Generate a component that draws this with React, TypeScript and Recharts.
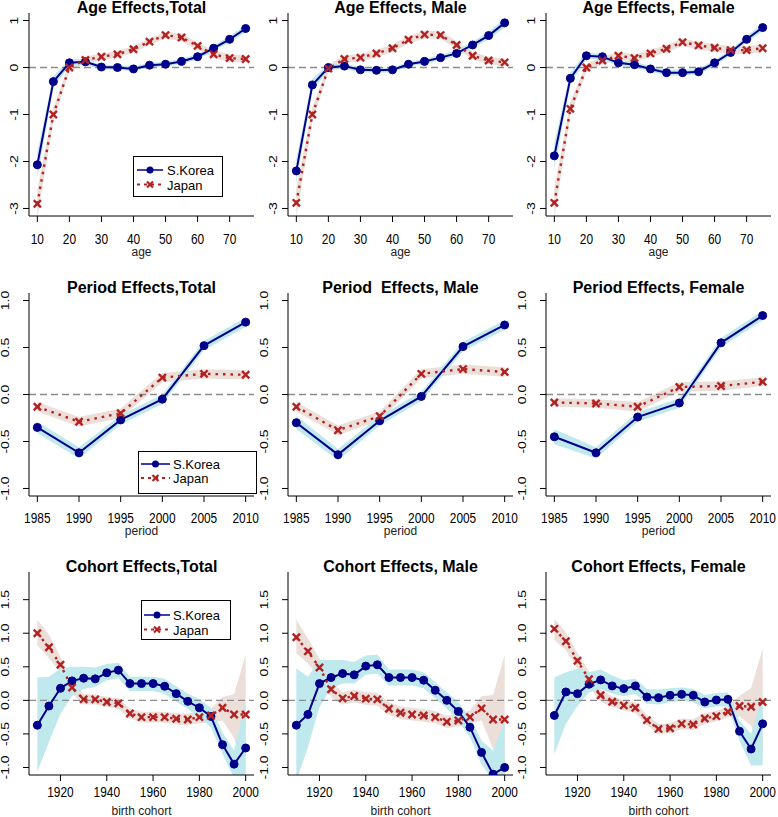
import React from 'react';
import { ComposedChart, Line, Area, XAxis, YAxis, ReferenceLine } from 'recharts';

const FONT = '"Liberation Sans", Arial, Helvetica, sans-serif';
const KOREA = '#00008B';
const JAPAN = '#B22222';
const KOREA_BAND = '#bfe9ed';
const JAPAN_BAND = '#ecdfd9';

// ---------- x categories ----------
const ageX = [10, 15, 20, 25, 30, 35, 40, 45, 50, 55, 60, 65, 70, 75];
const periodX = [1985, 1990, 1995, 2000, 2005, 2010];
const cohortX = [1910, 1915, 1920, 1925, 1930, 1935, 1940, 1945, 1950, 1955, 1960, 1965, 1970, 1975, 1980, 1985, 1990, 1995, 2000];

// ---------- tick labels ----------
const ageXTicks = [10, 20, 30, 40, 50, 60, 70];
const ageYTicks = [-3, -2, -1, 0, 1];
const periodXTicks = [1985, 1990, 1995, 2000, 2005, 2010];
const periodYTicks = [-1, -0.5, 0, 0.5, 1];
const cohortXTicks = [1920, 1940, 1960, 1980, 2000];
const cohortYTicks = [-1, -0.5, 0, 0.5, 1, 1.5];

// ---------- Age effects ----------
const ageTotalKorea = [-2.07, -0.3, 0.1, 0.12, 0.01, 0, -0.03, 0.05, 0.07, 0.13, 0.23, 0.41, 0.6, 0.83];
const ageTotalKoreaLo = [-2.35, -0.42, 0.03, 0.06, -0.04, -0.05, -0.08, 0, 0.02, 0.08, 0.17, 0.35, 0.53, 0.75];
const ageTotalKoreaHi = [-1.8, -0.18, 0.17, 0.18, 0.06, 0.05, 0.02, 0.1, 0.12, 0.18, 0.29, 0.47, 0.67, 0.91];
const ageTotalJapan = [-2.9, -1.0, 0, 0.16, 0.23, 0.28, 0.39, 0.55, 0.69, 0.64, 0.46, 0.28, 0.2, 0.18];
const ageTotalJapanLo = [-3.2, -1.15, -0.08, 0.09, 0.16, 0.21, 0.32, 0.48, 0.62, 0.56, 0.38, 0.2, 0.12, 0.1];
const ageTotalJapanHi = [-2.6, -0.85, 0.08, 0.23, 0.3, 0.35, 0.46, 0.62, 0.76, 0.72, 0.54, 0.36, 0.28, 0.26];

const ageMaleKorea = [-2.2, -0.37, 0, 0.03, -0.05, -0.06, -0.05, 0.07, 0.13, 0.21, 0.3, 0.48, 0.68, 0.95];
const ageMaleKoreaLo = [-2.45, -0.5, -0.06, -0.03, -0.1, -0.11, -0.1, 0.02, 0.08, 0.15, 0.24, 0.41, 0.6, 0.85];
const ageMaleKoreaHi = [-1.95, -0.24, 0.06, 0.09, 0.0, -0.01, 0.0, 0.12, 0.18, 0.27, 0.36, 0.55, 0.76, 1.05];
const ageMaleJapan = [-2.88, -1.0, -0.02, 0.18, 0.21, 0.3, 0.41, 0.59, 0.7, 0.69, 0.48, 0.25, 0.15, 0.11];
const ageMaleJapanLo = [-3.2, -1.15, -0.1, 0.1, 0.13, 0.22, 0.33, 0.51, 0.62, 0.61, 0.4, 0.17, 0.07, 0.03];
const ageMaleJapanHi = [-2.56, -0.85, 0.06, 0.26, 0.29, 0.38, 0.49, 0.67, 0.78, 0.77, 0.56, 0.33, 0.23, 0.19];

const ageFemaleKorea = [-1.88, -0.23, 0.25, 0.23, 0.1, 0.06, -0.03, -0.11, -0.11, -0.09, 0.1, 0.32, 0.6, 0.85];
const ageFemaleKoreaLo = [-2.15, -0.36, 0.18, 0.17, 0.04, 0.0, -0.09, -0.17, -0.17, -0.15, 0.04, 0.26, 0.53, 0.77];
const ageFemaleKoreaHi = [-1.6, -0.1, 0.32, 0.29, 0.16, 0.12, 0.03, -0.05, -0.05, -0.03, 0.16, 0.38, 0.67, 0.93];
const ageFemaleJapan = [-2.88, -0.88, 0, 0.15, 0.25, 0.2, 0.3, 0.4, 0.54, 0.47, 0.42, 0.37, 0.37, 0.41];
const ageFemaleJapanLo = [-3.2, -1.03, -0.08, 0.07, 0.17, 0.12, 0.22, 0.32, 0.46, 0.39, 0.34, 0.29, 0.29, 0.33];
const ageFemaleJapanHi = [-2.56, -0.73, 0.08, 0.23, 0.33, 0.28, 0.38, 0.48, 0.62, 0.55, 0.5, 0.45, 0.45, 0.49];

// ---------- Period effects ----------
const periodTotalKorea = [-0.35, -0.62, -0.27, -0.05, 0.52, 0.77];
const periodTotalKoreaLo = [-0.41, -0.68, -0.32, -0.1, 0.47, 0.72];
const periodTotalKoreaHi = [-0.29, -0.56, -0.22, 0.0, 0.57, 0.82];
const periodTotalJapan = [-0.13, -0.29, -0.2, 0.18, 0.22, 0.21];
const periodTotalJapanLo = [-0.18, -0.34, -0.25, 0.13, 0.17, 0.16];
const periodTotalJapanHi = [-0.08, -0.24, -0.15, 0.23, 0.27, 0.26];

const periodMaleKorea = [-0.3, -0.64, -0.28, -0.02, 0.51, 0.74];
const periodMaleKoreaLo = [-0.37, -0.7, -0.33, -0.07, 0.46, 0.69];
const periodMaleKoreaHi = [-0.23, -0.58, -0.23, 0.03, 0.56, 0.79];
const periodMaleJapan = [-0.13, -0.38, -0.23, 0.22, 0.27, 0.24];
const periodMaleJapanLo = [-0.18, -0.43, -0.28, 0.17, 0.22, 0.19];
const periodMaleJapanHi = [-0.08, -0.33, -0.18, 0.27, 0.32, 0.29];

const periodFemaleKorea = [-0.45, -0.62, -0.24, -0.09, 0.55, 0.84];
const periodFemaleKoreaLo = [-0.53, -0.68, -0.29, -0.14, 0.5, 0.79];
const periodFemaleKoreaHi = [-0.37, -0.56, -0.19, -0.04, 0.6, 0.89];
const periodFemaleJapan = [-0.085, -0.095, -0.13, 0.08, 0.09, 0.135];
const periodFemaleJapanLo = [-0.13, -0.14, -0.18, 0.03, 0.04, 0.09];
const periodFemaleJapanHi = [-0.04, -0.05, -0.08, 0.13, 0.14, 0.18];

// ---------- Cohort effects ----------
const cohortTotalKorea = [-0.37, -0.085, 0.18, 0.29, 0.33, 0.32, 0.41, 0.45, 0.25, 0.25, 0.25, 0.21, 0.1, -0.015, -0.11, -0.24, -0.66, -0.95, -0.71];
const cohortTotalKoreaLo = [-1.06, -0.62, -0.2, 0.07, 0.17, 0.2, 0.3, 0.33, 0.14, 0.14, 0.14, 0.1, -0.02, -0.13, -0.25, -0.4, -0.8, -1.15, -1.15];
const cohortTotalKoreaHi = [0.34, 0.35, 0.47, 0.5, 0.5, 0.49, 0.54, 0.56, 0.35, 0.35, 0.35, 0.32, 0.21, 0.1, 0.02, -0.11, -0.48, -0.75, 0.0];
const cohortTotalJapan = [1.0, 0.79, 0.53, 0.19, 0.015, 0.015, -0.025, -0.045, -0.195, -0.25, -0.25, -0.25, -0.275, -0.285, -0.25, -0.225, -0.11, -0.21, -0.21];
const cohortTotalJapanLo = [0.82, 0.63, 0.42, 0.1, -0.06, -0.06, -0.1, -0.12, -0.27, -0.33, -0.33, -0.33, -0.36, -0.37, -0.34, -0.33, -0.3, -0.56, -1.1];
const cohortTotalJapanHi = [1.2, 0.98, 0.65, 0.3, 0.09, 0.09, 0.05, 0.03, -0.12, -0.17, -0.17, -0.17, -0.19, -0.2, -0.16, -0.12, 0.05, 0.09, 0.68];

const cohortMaleKorea = [-0.37, -0.21, 0.25, 0.34, 0.4, 0.38, 0.51, 0.53, 0.34, 0.34, 0.34, 0.3, 0.15, 0.0, -0.165, -0.4, -0.775, -1.1, -1.0];
const cohortMaleKoreaLo = [-1.2, -0.7, -0.1, 0.18, 0.25, 0.25, 0.38, 0.4, 0.22, 0.22, 0.22, 0.18, 0.03, -0.12, -0.3, -0.55, -0.95, -1.2, -1.2];
const cohortMaleKoreaHi = [0.48, 0.35, 0.6, 0.6, 0.6, 0.57, 0.67, 0.68, 0.46, 0.46, 0.46, 0.42, 0.27, 0.12, -0.03, -0.25, -0.6, -0.75, -0.3];
const cohortMaleJapan = [0.94, 0.73, 0.49, 0.165, 0.03, 0.065, 0.025, 0.015, -0.125, -0.185, -0.21, -0.225, -0.25, -0.32, -0.3, -0.25, -0.12, -0.285, -0.285];
const cohortMaleJapanLo = [0.7, 0.55, 0.35, 0.05, -0.06, -0.03, -0.07, -0.08, -0.22, -0.28, -0.3, -0.32, -0.34, -0.41, -0.39, -0.35, -0.3, -0.72, -1.25];
const cohortMaleJapanHi = [1.2, 0.92, 0.62, 0.28, 0.12, 0.16, 0.12, 0.11, -0.03, -0.09, -0.11, -0.13, -0.16, -0.23, -0.2, -0.15, 0.06, 0.08, 0.68];

const cohortFemaleKorea = [-0.225, 0.125, 0.1, 0.24, 0.305, 0.215, 0.175, 0.215, 0.05, 0.04, 0.075, 0.09, 0.075, -0.025, 0.005, 0.015, -0.46, -0.725, -0.35];
const cohortFemaleKoreaLo = [-0.8, -0.35, -0.08, 0.12, 0.17, 0.1, 0.06, 0.1, -0.05, -0.06, -0.03, -0.01, -0.03, -0.12, -0.09, -0.09, -0.6, -0.97, -0.97];
const cohortFemaleKoreaHi = [0.34, 0.42, 0.47, 0.42, 0.46, 0.37, 0.3, 0.32, 0.17, 0.16, 0.18, 0.19, 0.17, 0.08, 0.11, 0.12, -0.3, -0.5, 0.1];
const cohortFemaleJapan = [1.065, 0.88, 0.59, 0.315, 0.075, -0.02, -0.075, -0.11, -0.295, -0.425, -0.415, -0.35, -0.36, -0.27, -0.235, -0.17, -0.085, -0.095, -0.025];
const cohortFemaleJapanLo = [0.9, 0.75, 0.47, 0.2, -0.02, -0.1, -0.15, -0.19, -0.37, -0.5, -0.49, -0.43, -0.44, -0.35, -0.31, -0.25, -0.24, -0.38, -0.82];
const cohortFemaleJapanHi = [1.22, 1.01, 0.7, 0.43, 0.16, 0.06, 0.0, -0.03, -0.22, -0.35, -0.34, -0.27, -0.28, -0.19, -0.16, -0.09, 0.07, 0.18, 0.77];

// ---------- layout ----------
const PANEL_W = 259;
const PANEL_H = 280;
const PLOT_LEFT = 29;
const PLOT_W = 225;
const PLOT_TOP = 13;
const PLOT_H = 203;
const colLefts = [0, 259, 517];
const rowTops = [0, 280, 559];

type Kind = 'age' | 'period' | 'cohort';

const axisSpec: Record<Kind, any> = {
  age: { xDomain: [7.4, 77.6], xTicks: ageXTicks, yDomain: [-3.16, 1.16], yTicks: ageYTicks, fmt: (v: number) => String(v), label: 'age', yOff: 11.5, tickDy: 21.5, labelOffset: 24.5 },
  period: { xDomain: [1984, 2011], xTicks: periodXTicks, yDomain: [-1.08, 1.08], yTicks: periodYTicks, fmt: (v: number) => v.toFixed(1), label: 'period', yOff: 20, tickDy: 20.5, labelOffset: 25 },
  cohort: { xDomain: [1906.4, 2003.6], xTicks: cohortXTicks, yDomain: [-1.112, 1.912], yTicks: cohortYTicks, fmt: (v: number) => v.toFixed(1), label: 'birth cohort', yOff: 20, tickDy: 16, labelOffset: 24 },
};

type LegendSpec = { left: number; top: number; w: number; h: number; y1: number; y2: number; t1: number; t2: number; sx1: number; sx2: number; tx: number };

const panels: { kind: Kind; title: string; x: number[]; k: number[]; kLo: number[]; kHi: number[]; j: number[]; jLo: number[]; jHi: number[]; legend?: LegendSpec }[][] = [
  [
    { kind: 'age', title: 'Age Effects,Total', x: ageX, k: ageTotalKorea, kLo: ageTotalKoreaLo, kHi: ageTotalKoreaHi, j: ageTotalJapan, jLo: ageTotalJapanLo, jHi: ageTotalJapanHi,
      legend: { left: 133, top: 156, w: 89, h: 40, y1: 14, y2: 28.5, t1: 19, t2: 33.5, sx1: 4, sx2: 30, tx: 34 } },
    { kind: 'age', title: 'Age Effects, Male', x: ageX, k: ageMaleKorea, kLo: ageMaleKoreaLo, kHi: ageMaleKoreaHi, j: ageMaleJapan, jLo: ageMaleJapanLo, jHi: ageMaleJapanHi },
    { kind: 'age', title: 'Age Effects, Female', x: ageX, k: ageFemaleKorea, kLo: ageFemaleKoreaLo, kHi: ageFemaleKoreaHi, j: ageFemaleJapan, jLo: ageFemaleJapanLo, jHi: ageFemaleJapanHi },
  ],
  [
    { kind: 'period', title: 'Period Effects,Total', x: periodX, k: periodTotalKorea, kLo: periodTotalKoreaLo, kHi: periodTotalKoreaHi, j: periodTotalJapan, jLo: periodTotalJapanLo, jHi: periodTotalJapanHi,
      legend: { left: 138, top: 171, w: 118, h: 42, y1: 13, y2: 27, t1: 18, t2: 32, sx1: 3, sx2: 32, tx: 35 } },
    { kind: 'period', title: 'Period  Effects, Male', x: periodX, k: periodMaleKorea, kLo: periodMaleKoreaLo, kHi: periodMaleKoreaHi, j: periodMaleJapan, jLo: periodMaleJapanLo, jHi: periodMaleJapanHi },
    { kind: 'period', title: 'Period Effects, Female', x: periodX, k: periodFemaleKorea, kLo: periodFemaleKoreaLo, kHi: periodFemaleKoreaHi, j: periodFemaleJapan, jLo: periodFemaleJapanLo, jHi: periodFemaleJapanHi },
  ],
  [
    { kind: 'cohort', title: 'Cohort Effects,Total', x: cohortX, k: cohortTotalKorea, kLo: cohortTotalKoreaLo, kHi: cohortTotalKoreaHi, j: cohortTotalJapan, jLo: cohortTotalJapanLo, jHi: cohortTotalJapanHi,
      legend: { left: 141, top: 41, w: 89, h: 39, y1: 15, y2: 29.5, t1: 20, t2: 34.5, sx1: 3, sx2: 29, tx: 32 } },
    { kind: 'cohort', title: 'Cohort Effects, Male', x: cohortX, k: cohortMaleKorea, kLo: cohortMaleKoreaLo, kHi: cohortMaleKoreaHi, j: cohortMaleJapan, jLo: cohortMaleJapanLo, jHi: cohortMaleJapanHi },
    { kind: 'cohort', title: 'Cohort Effects, Female', x: cohortX, k: cohortFemaleKorea, kLo: cohortFemaleKoreaLo, kHi: cohortFemaleKoreaHi, j: cohortFemaleJapan, jLo: cohortFemaleJapanLo, jHi: cohortFemaleJapanHi },
  ],
];

const XMark = (props: any) => {
  const { cx, cy, index } = props;
  if (cx == null || cy == null) return <g key={`x-${index}`} />;
  const s = 3.6;
  return (
    <g key={`x-${index}`}>
      <line x1={cx - s} y1={cy - s} x2={cx + s} y2={cy + s} stroke={JAPAN} strokeWidth={2.4} />
      <line x1={cx - s} y1={cy + s} x2={cx + s} y2={cy - s} stroke={JAPAN} strokeWidth={2.4} />
    </g>
  );
};

const makeXTick = (dy: number) => (props: any) => {
  const { x, y, payload } = props;
  return (
    <text transform={`translate(${x},${y + dy}) scale(0.85,1)`} textAnchor="middle" fontSize={14} fontFamily={FONT} fill="#000">
      {payload.value}
    </text>
  );
};

const makeYTick = (fmt: (v: number) => string, off: number) => (props: any) => {
  const { y, payload } = props;
  const bx = PLOT_LEFT - off;
  return (
    <text transform={`translate(${bx},${y}) rotate(-90) scale(1,0.8)`} textAnchor="middle" fontSize={14} fontFamily={FONT} fill="#000">
      {fmt(payload.value)}
    </text>
  );
};

const LegendBox = ({ s }: { s: LegendSpec }) => {
  const mid = (s.sx1 + s.sx2) / 2;
  return (
    <svg style={{ position: 'absolute', left: s.left, top: s.top, overflow: 'visible' }} width={s.w + 1} height={s.h + 1}>
      <rect x={0.5} y={0.5} width={s.w} height={s.h} fill="#fff" stroke="#000" strokeWidth={1} />
      <line x1={s.sx1} y1={s.y1} x2={s.sx2} y2={s.y1} stroke={KOREA} strokeWidth={1.5} />
      <circle cx={mid} cy={s.y1} r={3.5} fill={KOREA} />
      <text x={s.tx} y={s.t1} fontSize={13} fontFamily={FONT} fill="#000">S.Korea</text>
      <line x1={s.sx1} y1={s.y2} x2={s.sx2} y2={s.y2} stroke={JAPAN} strokeWidth={2.2} strokeDasharray="3 4" />
      <line x1={mid - 3} y1={s.y2 - 3} x2={mid + 3} y2={s.y2 + 3} stroke={JAPAN} strokeWidth={2.2} />
      <line x1={mid - 3} y1={s.y2 + 3} x2={mid + 3} y2={s.y2 - 3} stroke={JAPAN} strokeWidth={2.2} />
      <text x={s.tx} y={s.t2} fontSize={13} fontFamily={FONT} fill="#000">Japan</text>
    </svg>
  );
};

const Panel = ({ p, left, top }: { p: any; left: number; top: number }) => {
  const spec = axisSpec[p.kind as Kind];
  const data = p.x.map((xv: number, i: number) => ({
    x: xv,
    k: p.k[i],
    kBand: [p.kLo[i], p.kHi[i]],
    j: p.j[i],
    jBand: [p.jLo[i], p.jHi[i]],
  }));
  return (
    <div style={{ position: 'absolute', left, top, width: PANEL_W, height: PANEL_H }}>
      <ComposedChart
        width={PANEL_W}
        height={PANEL_H}
        data={data}
        margin={{ top: PLOT_TOP, right: PANEL_W - PLOT_LEFT - PLOT_W, left: 0, bottom: 0 }}
      >
        <XAxis
          type="number"
          dataKey="x"
          domain={spec.xDomain}
          ticks={spec.xTicks}
          interval={0}
          allowDataOverflow
          height={PANEL_H - PLOT_TOP - PLOT_H}
          tickSize={6}
          tickMargin={0}
          axisLine={{ stroke: '#000', strokeWidth: 1 }}
          tickLine={{ stroke: '#000', strokeWidth: 1 }}
          tick={makeXTick(spec.tickDy)}
          label={{ value: spec.label, position: 'insideBottom', offset: spec.labelOffset, style: { fontFamily: FONT, fontSize: 12, fill: '#222' } }}
        />
        <YAxis
          type="number"
          domain={spec.yDomain}
          ticks={spec.yTicks}
          interval={0}
          allowDataOverflow
          width={PLOT_LEFT}
          tickSize={6}
          tickMargin={0}
          axisLine={{ stroke: '#000', strokeWidth: 1 }}
          tickLine={{ stroke: '#000', strokeWidth: 1 }}
          tick={makeYTick(spec.fmt, spec.yOff)}
        />
        <Area type="linear" dataKey="jBand" fill={JAPAN_BAND} fillOpacity={1} stroke="none" isAnimationActive={false} activeDot={false} />
        <Area type="linear" dataKey="kBand" fill={KOREA_BAND} fillOpacity={1} stroke="none" isAnimationActive={false} activeDot={false} />
        <ReferenceLine y={0} stroke="#8c8c8c" strokeWidth={1.3} strokeDasharray="7 4" />
        <Line type="linear" dataKey="k" stroke={KOREA} strokeWidth={2} dot={{ r: 4, fill: KOREA, stroke: KOREA, strokeWidth: 1 }} activeDot={false} isAnimationActive={false} />
        <Line type="linear" dataKey="j" stroke={JAPAN} strokeWidth={2.4} strokeDasharray="2.5 5" dot={XMark} activeDot={false} isAnimationActive={false} />
      </ComposedChart>
      <div
        style={{
          position: 'absolute',
          left: PLOT_LEFT,
          top: 0,
          width: PLOT_W,
          textAlign: 'center',
          fontFamily: FONT,
          fontWeight: 'bold',
          fontSize: 16,
          lineHeight: '16px',
          whiteSpace: 'pre',
          color: '#000',
        }}
      >
        {p.title}
      </div>
      {p.legend ? <LegendBox s={p.legend} /> : null}
    </div>
  );
};

export default function App() {
  return (
    <div style={{ position: 'absolute', left: 0, top: 0, width: 778, height: 817, background: '#fff', overflow: 'hidden' }}>
      {panels.map((row, r) =>
        row.map((p, c) => <Panel key={`${r}-${c}`} p={p} left={colLefts[c]} top={rowTops[r]} />)
      )}
    </div>
  );
}
